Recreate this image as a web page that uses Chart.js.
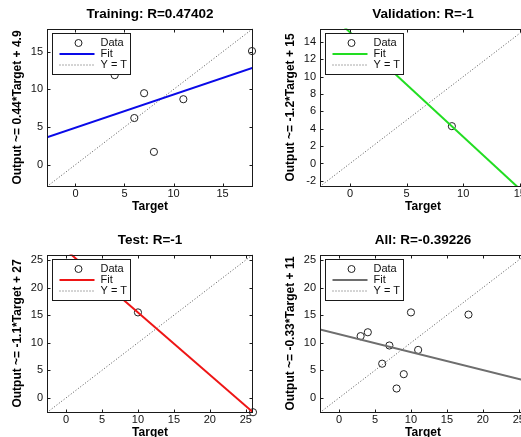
<!DOCTYPE html>
<html><head><meta charset="utf-8">
<script src="https://cdn.jsdelivr.net/npm/chart.js@4.4.0/dist/chart.umd.min.js"></script>
<style>
html,body{margin:0;padding:0;background:#fff;}
#wrap{position:relative;width:521px;height:437px;overflow:hidden;background:#fff;}
canvas{position:absolute;}
</style></head><body>
<div id="wrap">
<canvas id="c1" width="260" height="232" style="left:0;top:0"></canvas>
<canvas id="c2" width="260" height="232" style="left:273px;top:0"></canvas>
<canvas id="c3" width="260" height="232" style="left:0;top:226px"></canvas>
<canvas id="c4" width="260" height="232" style="left:273px;top:226px"></canvas>
</div>
<script>
// ---- data ----
const trainTargets = [4, 6, 7, 8, 11, 18];
const trainOutputs = [11.9, 6.2, 9.5, 1.7, 8.7, 15.1];
const valTargets = [3, 9];
const valOutputs = [11.2, 4.3];
const testTargets = [10, 26];
const testOutputs = [15.5, -2.6];
const allTargets = [3, 4, 6, 7, 8, 9, 10, 11, 18, 26];
const allOutputs = [11.2, 11.9, 6.2, 9.5, 1.7, 4.3, 15.5, 8.7, 15.1, -2.6];

// fit line end points (x, y)
const trainFitX = [-2.9, 18.1], trainFitY = [3.65, 12.9];
const valFitX = [-2.65, 15.55], valFitY = [18.3, -3.6];
const testFitX = [-2.65, 26], testFitY = [29.8, -2.6];
const allFitX = [-2.65, 26], allFitY = [12.4, 3.1];

// axis limits (same for x and y) and tick labels
const trainLim = [-2.9, 18.1];
const valLim = [-2.65, 15.55];
const testLim = [-2.65, 26];
const allLim = [-2.65, 26];
const trainTicks = [0, 5, 10, 15];
const valXTicks = [0, 5, 10, 15];
const valYTicks = [-2, 0, 2, 4, 6, 8, 10, 12, 14];
const bigTicks = [0, 5, 10, 15, 20, 25];

const titles = ['Training: R=0.47402', 'Validation: R=-1', 'Test: R=-1', 'All: R=-0.39226'];
const yLabels = ['Output ~= 0.44*Target + 4.9', 'Output ~= -1.2*Target + 15', 'Output ~= -1.1*Target + 27', 'Output ~= -0.33*Target + 11'];
const seriesNames = ['Data', 'Fit', 'Y = T'];

const FF = '"Liberation Sans", Arial, Helvetica, sans-serif';

const framePlugin = {
  id: 'matFrame',
  afterDraw(chart) {
    const o = chart.options.plugins.matFrame;
    const {ctx, chartArea: a, scales: {x, y}} = chart;
    ctx.save();
    ctx.strokeStyle = '#1a1a1a';
    ctx.lineWidth = 1;
    const L = Math.round(a.left) + 0.5, R = Math.round(a.right) - 0.5;
    const T = Math.round(a.top) + 0.5, B = Math.round(a.bottom) - 0.5;
    ctx.strokeRect(L, T, R - L, B - T);
    ctx.beginPath();
    x.ticks.forEach(t => {
      const px = Math.round(x.getPixelForValue(t.value)) + 0.5;
      ctx.moveTo(px, B); ctx.lineTo(px, B - 3);
      ctx.moveTo(px, T); ctx.lineTo(px, T + 3);
    });
    y.ticks.forEach(t => {
      const py = Math.round(y.getPixelForValue(t.value)) + 0.5;
      ctx.moveTo(L, py); ctx.lineTo(L + 3, py);
      ctx.moveTo(R, py); ctx.lineTo(R - 3, py);
    });
    ctx.stroke();
    // legend box
    const lx = Math.round(a.left + 5) + 0.5, ly = Math.round(a.top + 4.5) + 0.5, lw = 78, lh = 41;
    ctx.fillStyle = '#fff';
    ctx.fillRect(lx, ly, lw, lh);
    ctx.strokeRect(lx, ly, lw, lh);
    // Data marker
    ctx.beginPath();
    ctx.arc(lx + 26, ly + 9.5, 3.5, 0, Math.PI * 2);
    ctx.strokeStyle = '#222';
    ctx.stroke();
    // Fit line
    ctx.beginPath();
    ctx.strokeStyle = o.color; ctx.lineWidth = 2;
    ctx.moveTo(lx + 7, ly + 20.5); ctx.lineTo(lx + 42, ly + 20.5);
    ctx.stroke();
    // Y = T line
    ctx.beginPath();
    ctx.strokeStyle = '#555'; ctx.lineWidth = 1; ctx.setLineDash([1, 2]);
    ctx.moveTo(lx + 7, ly + 31.5); ctx.lineTo(lx + 42, ly + 31.5);
    ctx.stroke();
    ctx.setLineDash([]);
    ctx.fillStyle = '#111';
    ctx.font = '11px ' + FF;
    ctx.textBaseline = 'middle';
    ctx.textAlign = 'left';
    ctx.fillText(seriesNames[0], lx + 48, ly + 9.5);
    ctx.fillText(seriesNames[1], lx + 48, ly + 20.5);
    ctx.fillText(seriesNames[2], lx + 48, ly + 31.5);
    ctx.restore();
  }
};

function pts(xs, ys) { return xs.map((v, i) => ({x: v, y: ys[i]})); }

function makeChart(id, o) {
  const boldFont = {family: FF, size: 12, weight: 'bold', lineHeight: 1.2};
  const titleFont = {family: FF, size: 13.5, weight: 'bold', lineHeight: 1.2};
  const tickFont = {family: FF, size: 11, lineHeight: 1.2};
  new Chart(document.getElementById(id), {
    type: 'scatter',
    data: {
      datasets: [
        {label: seriesNames[1], data: pts(o.fitX, o.fitY), showLine: true, borderColor: o.color, borderWidth: 2, pointRadius: 0, fill: false},
        {label: seriesNames[0], data: pts(o.tx, o.ty), showLine: false, pointRadius: 3.6, pointBorderColor: '#222', pointBackgroundColor: 'rgba(0,0,0,0)', pointBorderWidth: 1, clip: false},
        {label: seriesNames[2], data: pts(o.lim, o.lim), showLine: true, borderColor: '#555', borderWidth: 1, borderDash: [1, 2], pointRadius: 0, fill: false}
      ]
    },
    options: {
      responsive: false, animation: false, events: [],
      layout: {padding: {left: 0, right: 7, top: 0, bottom: 0}},
      plugins: {
        legend: {display: false}, tooltip: {enabled: false},
        title: {display: true, fullSize: false, text: o.title, color: '#000', font: titleFont, padding: {top: 5.9, bottom: 6.4}},
        matFrame: {color: o.color}
      },
      scales: {
        x: {
          type: 'linear', min: o.lim[0], max: o.lim[1],
          grid: {display: false, drawTicks: false}, border: {display: false},
          ticks: {padding: 1, font: tickFont, color: '#111', maxRotation: 0, autoSkip: false, callback: v => String(v)},
          afterBuildTicks: s => { s.ticks = o.xticks.map(v => ({value: v})); },
          afterFit: s => { s.height = 45.5; },
          title: {display: true, text: 'Target', color: '#000', font: boldFont, padding: {top: 0, bottom: 18.3}}
        },
        y: {
          type: 'linear', min: o.lim[0], max: o.lim[1],
          grid: {display: false, drawTicks: false}, border: {display: false},
          ticks: {padding: 4, font: tickFont, color: '#111', autoSkip: false, callback: v => String(v)},
          afterBuildTicks: s => { s.ticks = o.yticks.map(v => ({value: v})); },
          afterFit: s => { s.width = 47; },
          title: {display: true, text: o.ylabel, color: '#000', font: boldFont, padding: {top: 10.8, bottom: 0}}
        }
      }
    },
    plugins: [framePlugin]
  });
}

makeChart('c1', {title: titles[0], ylabel: yLabels[0], tx: trainTargets, ty: trainOutputs, fitX: trainFitX, fitY: trainFitY, lim: trainLim, xticks: trainTicks, yticks: trainTicks, color: '#0a0ae8'});
makeChart('c2', {title: titles[1], ylabel: yLabels[1], tx: valTargets, ty: valOutputs, fitX: valFitX, fitY: valFitY, lim: valLim, xticks: valXTicks, yticks: valYTicks, color: '#22dd22'});
makeChart('c3', {title: titles[2], ylabel: yLabels[2], tx: testTargets, ty: testOutputs, fitX: testFitX, fitY: testFitY, lim: testLim, xticks: bigTicks, yticks: bigTicks, color: '#ee1515'});
makeChart('c4', {title: titles[3], ylabel: yLabels[3], tx: allTargets, ty: allOutputs, fitX: allFitX, fitY: allFitY, lim: allLim, xticks: bigTicks, yticks: bigTicks, color: '#6e6e6e'});
</script>
</body></html>
